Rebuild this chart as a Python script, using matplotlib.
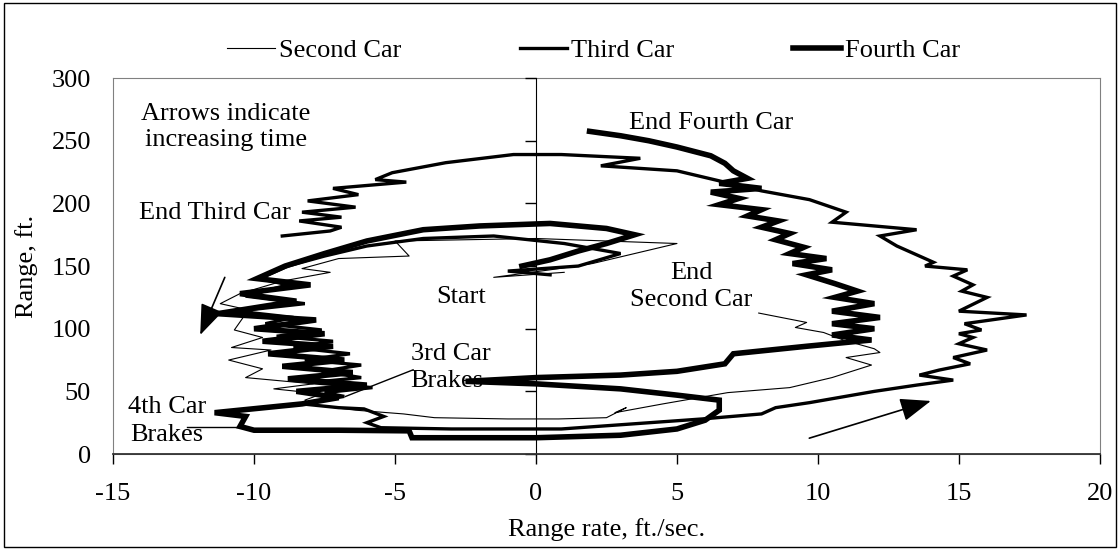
import numpy as np
import matplotlib.pyplot as plt
from matplotlib.lines import Line2D
from matplotlib.patches import Rectangle

plt.rcParams['font.family'] = ['Liberation Serif', 'DejaVu Serif']
plt.rcParams['font.size'] = 19
plt.rcParams['axes.unicode_minus'] = False

# range rate (ft/sec) and range (ft)
second_rate = [1.0, -1.5, 0.5, 2.0, 3.5, 5.0, 2.5, 0.0, -2.5, -5.0, -4.5, -7.0, -8.3, -7.3,
               -9.0, -10.5, -11.2, -10.2, -10.7, -9.7, -10.8, -9.4, -10.9, -9.7, -10.3, -7.9,
               -9.3, -7.6, -8.2, -7.9, -6.4, -4.7, -3.6, -1.0, 0.8, 2.5, 3.2, 2.8, 4.5, 6.8,
               9.0, 10.5, 11.9, 11.0, 12.2, 12.0, 10.9, 10.2, 9.2, 9.6, 7.9]
second_range = [145, 141, 147, 152, 160, 168, 170, 172, 171, 170, 158, 156, 148, 145,
                138, 128, 120, 115, 99, 93, 85, 83, 75, 68, 61, 56,
                52, 48, 43, 39, 35, 32, 29, 28, 28, 29, 37, 33, 40, 49,
                53, 61, 71, 77, 81, 84, 91, 97, 101, 105, 112.5]

third_rate = [0.5, -1.0, 1.5, 3.0, 1.0, -1.5, -4.0, -6.0, -7.5, -8.8, -9.8, -8.8, -10.3,
              -8.2, -10.6, -8.6, -9.6, -7.6, -9.2, -7.2, -8.6, -6.6, -8.2, -6.2, -7.6, -6.2,
              -8.0, -5.8, -7.5, -6.8, -8.3, -7.0, -6.1, -5.4, -6.0, -5.5, -3.0, 0.9, 3.4,
              5.9, 8.0, 8.5, 9.7, 12.0, 13.5, 14.8, 13.6, 14.3, 15.4, 14.8, 16.0, 15.0,
              15.5, 15.0, 15.8, 15.2, 17.4, 15.0, 16.0, 15.1, 15.5, 14.8, 15.3, 13.8, 14.1,
              12.8, 12.2, 13.5, 10.5, 11.0, 9.7, 8.0, 6.5, 5.0, 2.3, 3.7, 0.9, -0.8, -3.2,
              -5.1, -5.7, -4.6, -7.2, -6.3, -8.1, -6.4, -8.3, -6.9, -8.4, -6.9, -7.3, -9.0]
third_range = [143, 146, 150, 160, 168, 174, 172, 166, 158, 150, 140, 135, 126,
               120, 114, 109, 104, 99, 94, 90, 85, 80, 75, 71, 66, 61,
               57, 53, 49, 46, 40, 37, 36, 30, 25, 21, 20, 20, 24,
               28, 32, 37, 41, 50, 55, 59, 63, 67, 72, 77, 83, 88,
               93, 96, 99, 104, 111, 114, 125, 130, 135, 142, 147, 150, 153,
               166, 174, 179, 185, 193, 203, 210, 218, 226, 230, 236, 239, 239, 232.5,
               224.5, 219, 217, 212, 207, 202, 197, 193, 189, 186, 181, 178, 174]

fourth_rate = [-0.5, 0.5, 1.5, 2.5, 3.5, 2.5, 0.5, -2.0, -4.0, -6.0, -7.5, -8.9, -9.9,
               -8.0, -10.5, -8.5, -11.3, -7.8, -10.0, -7.5, -9.7, -7.2, -9.5, -6.8, -9.0,
               -6.5, -8.8, -6.0, -8.5, -7.0, -8.3, -11.4, -10.3, -10.5, -10.0, -7.0, -4.5,
               -4.4, 0.0, 3.0, 5.0, 6.0, 6.5, 6.5, 5.0, 3.0, 0.0, -2.5, 0.0, 3.0, 5.0, 6.7,
               7.0, 9.6, 11.9, 10.5, 12.0, 10.5, 12.2, 10.5, 12.0, 10.6, 11.4, 10.6, 9.6,
               10.5, 9.1, 10.3, 9.0, 9.5, 8.5, 9.0, 8.0, 8.6, 7.5, 8.0, 6.5, 7.2, 6.2, 8.0,
               6.5, 7.5, 7.0, 6.7, 6.2, 5.0, 4.0, 3.0, 1.9]
fourth_range = [150, 155, 162, 168, 175, 180, 184, 182, 179, 170, 160, 150, 140,
                135, 128, 122, 112, 107, 100, 96, 90, 86, 80, 75, 70,
                65, 60, 55, 50, 45, 40, 33, 30, 22, 19, 19, 18.5,
                13, 13, 15, 20, 27, 35, 43, 47, 52, 56, 58, 61, 63, 66, 72,
                80, 86, 91, 95, 100, 104, 109, 114, 120, 125, 130, 136, 143,
                147, 152, 156, 160, 165, 171, 176, 181, 186, 190, 195, 199, 204, 209, 212,
                216, 220, 226, 232, 238, 245, 250, 254, 257.5]

x_ticks = [-15, -10, -5, 0, 5, 10, 15, 20]
y_ticks = [0, 50, 100, 150, 200, 250, 300]

rect = [0.101, 0.1745, 0.881, 0.6835]
fig = plt.figure(figsize=(11.2, 5.5), dpi=100)

# back axes: gray plot-area frame and the y tick labels on the far left
frame = fig.add_axes(rect)
frame.set_xlim(-15, 20)
frame.set_ylim(0, 300)
frame.set_xticks([])
frame.set_yticks(y_ticks)
frame.tick_params(axis='y', length=0, pad=16)
for sp in frame.spines.values():
    sp.set_color('#808080')
frame.set_ylabel('Range, ft.', labelpad=10)

# front axes: data, x axis at the bottom and the y axis crossing at zero
ax = fig.add_axes(rect, sharey=frame)
ax.patch.set_visible(False)
ax.plot(second_rate, second_range, color='black', lw=0.8)
ax.plot(third_rate, third_range, color='black', lw=2.4, solid_joinstyle='miter')
ax.plot(fourth_rate, fourth_range, color='black', lw=4.0, solid_joinstyle='miter')

ax.set_xlim(-15, 20)
ax.set_xticks(x_ticks)
ax.tick_params(axis='x', direction='out', length=7, width=1, pad=14)
ax.tick_params(axis='y', direction='out', length=8, width=1, labelleft=False)
ax.spines['left'].set_position(('data', 0))
ax.spines['left'].set_color('black')
ax.spines['top'].set_visible(False)
ax.spines['right'].set_visible(False)
ax.spines['bottom'].set_color('#333333')
ax.spines['bottom'].set_linewidth(1.3)
ax.set_xlabel('Range rate, ft./sec.', labelpad=9)

ax.text(-11.0, 261, 'Arrows indicate\nincreasing time', ha='center', va='center', linespacing=1.25)
ax.text(-11.4, 192, 'End Third Car', ha='center', va='center')
ax.text(6.2, 264, 'End Fourth Car', ha='center', va='center')
ax.text(-2.65, 125, 'Start', ha='center', va='center')
ax.text(5.5, 134, 'End\nSecond Car', ha='center', va='center', linespacing=1.3)
ax.text(-4.45, 69, '3rd Car\nBrakes', ha='left', va='center', linespacing=1.25)
ax.text(-13.1, 26, '4th Car\nBrakes', ha='center', va='center', linespacing=1.35)

ax.plot([-4.36, -6.76], [67.2, 45.9], color='black', lw=1)
ax.plot([-12.38, -10.42], [21.9, 21.9], color='black', lw=1)

arrow_style = dict(arrowstyle='-|>,head_length=1.0,head_width=0.38', color='black', lw=1.2)
ax.annotate('', xy=(-11.95, 93), xytext=(-11.0, 143), arrowprops=arrow_style)
ax.annotate('', xy=(14.1, 43), xytext=(9.6, 12), arrowprops=arrow_style)

handles = [Line2D([], [], color='black', lw=0.8),
           Line2D([], [], color='black', lw=2.4),
           Line2D([], [], color='black', lw=4.0)]
fig.legend(handles, ['Second Car', 'Third Car', 'Fourth Car'], loc='center',
           bbox_to_anchor=(0.53, 0.908), ncol=3, frameon=False,
           handlelength=1.8, handletextpad=0.15, columnspacing=4.5)

fig.patches.append(Rectangle((0.004, 0.005), 0.992, 0.989, transform=fig.transFigure,
                             fill=False, edgecolor='black', lw=1))

fig.savefig('out.png', dpi=100)
